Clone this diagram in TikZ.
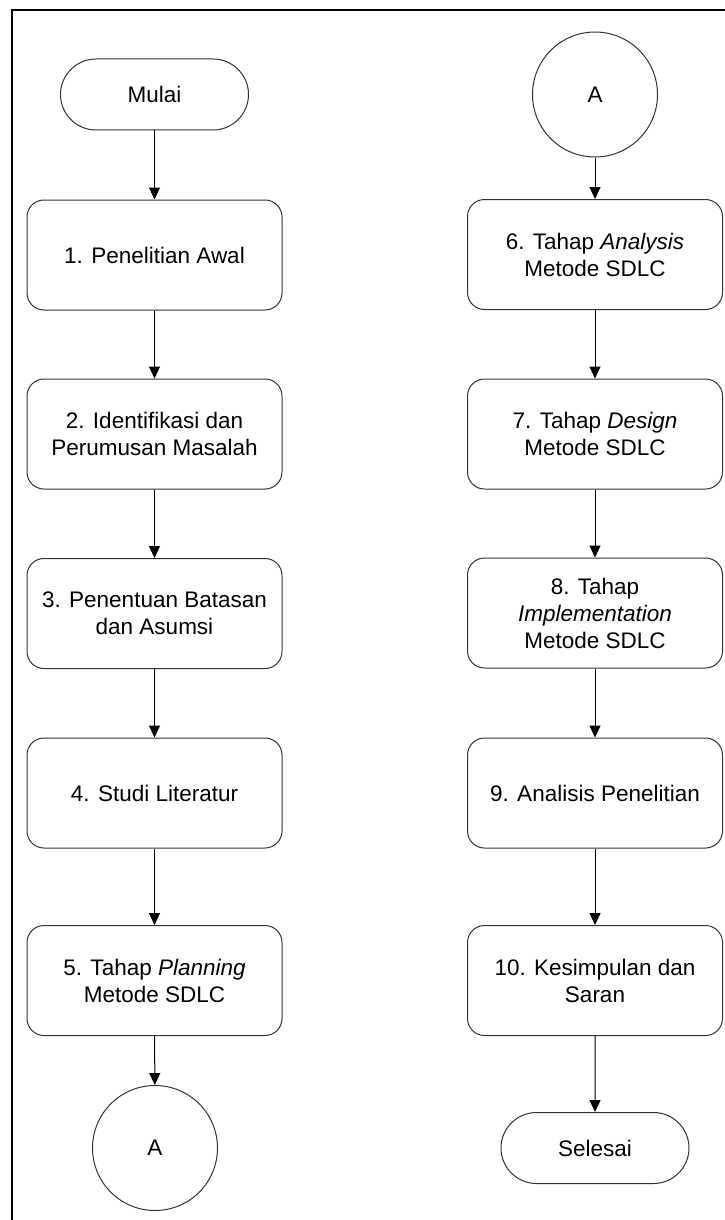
\documentclass[tikz,border=0pt]{standalone}
\usepackage{fontspec}
\setmainfont{Liberation Sans}
\usetikzlibrary{arrows.meta,shapes.misc}
\begin{document}
\begin{tikzpicture}[x=1pt,y=-1pt,
  txt/.style={font=\fontsize{22.5}{27}\selectfont, text=black, align=center, inner sep=0pt},
  proc/.style={txt, draw=black!80, line width=1pt, rounded corners=17pt, minimum width=255pt, minimum height=110pt},
  term/.style={txt, draw=black!80, line width=1pt, rounded rectangle, minimum width=188pt, minimum height=71pt},
  conn/.style={txt, draw=black!80, line width=1pt, circle, minimum size=125pt},
  arr/.style={-{Triangle[length=12pt,width=11pt]}, line width=1pt, black}]
\useasboundingbox (0,0) rectangle (724,1220);
\fill[white] (0,0) rectangle (724,1220);
\draw[line width=2pt] (11.5,1225) -- (11.5,10.5) -- (730,10.5);
% left column
\node[term] (mulai) at (154.5,94.5) {Mulai};
\node[proc] (b1) at (154.5,255) {1. Penelitian Awal};
\node[proc] (b2) at (154.5,434) {2. Identifikasi dan\\Perumusan Masalah};
\node[proc] (b3) at (154.5,613.5) {3. Penentuan Batasan\\dan Asumsi};
\node[proc] (b4) at (154.5,793) {4. Studi Literatur};
\node[proc] (b5) at (154.5,980.5) {5. Tahap \textit{Planning}\\Metode SDLC};
\node[conn] (a1) at (155,1148) {A};
% right column
\node[conn] (a2) at (595,94.5) {A};
\node[proc] (b6) at (595,254.5) {6. Tahap \textit{Analysis}\\Metode SDLC};
\node[proc] (b7) at (595,434) {7. Tahap \textit{Design}\\Metode SDLC};
\node[proc] (b8) at (595,613) {8. Tahap\\\textit{Implementation}\\Metode SDLC};
\node[proc] (b9) at (595,793) {9. Analisis Penelitian};
\node[proc] (b10) at (595,980.5) {10. Kesimpulan dan\\Saran};
\node[term] (selesai) at (595,1148) {Selesai};
% connectors
\draw[arr] (mulai) -- (b1);
\draw[arr] (b1) -- (b2);
\draw[arr] (b2) -- (b3);
\draw[arr] (b3) -- (b4);
\draw[arr] (b4) -- (b5);
\draw[arr] (b5) -- (a1);
\draw[arr] (a2) -- (b6);
\draw[arr] (b6) -- (b7);
\draw[arr] (b7) -- (b8);
\draw[arr] (b8) -- (b9);
\draw[arr] (b9) -- (b10);
\draw[arr] (b10) -- (selesai);
\end{tikzpicture}
\end{document}
